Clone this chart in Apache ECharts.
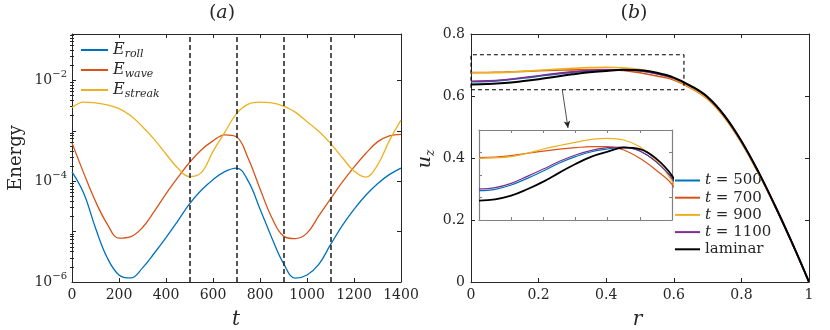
<!DOCTYPE html>
<html><head><meta charset="utf-8">
<script src="https://cdn.jsdelivr.net/npm/echarts@6/dist/echarts.min.js"></script>
<style>html,body{margin:0;padding:0;background:#fff}#c{width:830px;height:330px}</style>
</head><body><div id="c"></div>
<script>
// ---------- Panel (a): energies (log10 of E) ----------
const tVals = [0,50,100,150,200,250,300,350,400,450,500,550,600,650,700,750,800,850,900,950,1000,1050,1100,1150,1200,1250,1300,1350,1400];
const logERoll   = [-3.815,-4.24,-4.93,-5.52,-5.86,-5.92,-5.72,-5.43,-5.12,-4.79,-4.45,-4.18,-3.97,-3.81,-3.74,-4.00,-4.55,-5.12,-5.63,-5.925,-5.86,-5.65,-5.26,-4.88,-4.56,-4.28,-4.05,-3.87,-3.74];
const logEWave   = [-3.24,-3.84,-4.40,-4.85,-5.13,-5.10,-4.92,-4.60,-4.25,-3.93,-3.63,-3.38,-3.20,-3.08,-3.12,-3.55,-4.15,-4.72,-5.09,-5.14,-5.03,-4.69,-4.35,-4.02,-3.72,-3.45,-3.22,-3.10,-3.07];
const logEStreak = [-2.54,-2.43,-2.445,-2.485,-2.56,-2.70,-2.92,-3.17,-3.46,-3.74,-3.91,-3.83,-3.41,-3.03,-2.66,-2.47,-2.43,-2.445,-2.51,-2.63,-2.82,-3.01,-3.25,-3.53,-3.80,-3.92,-3.68,-3.20,-2.79];
const markTimes = [500,700,900,1100];
const energyNames = ['E_roll','E_wave','E_streak'];
const energyTicks = [-6,-4,-2];

// ---------- Panel (b): axial velocity profiles ----------
const rVals = [0,0.05,0.1,0.15,0.2,0.25,0.3,0.35,0.4,0.45,0.5,0.55,0.6,0.65,0.7,0.75,0.8,0.85,0.9,0.95,1.0];
const uz500  = [0.6461,0.6473,0.6511,0.6570,0.6636,0.6707,0.6763,0.6807,0.6831,0.6846,0.6813,0.6719,0.6570,0.631,0.595,0.535,0.453,0.355,0.244,0.126,0];
const uz700  = [0.6754,0.6760,0.6772,0.6792,0.6813,0.6830,0.6843,0.6852,0.6852,0.6822,0.6748,0.6644,0.6517,0.626,0.590,0.531,0.450,0.352,0.243,0.125,0];
const uz900  = [0.6748,0.6752,0.6763,0.6793,0.6831,0.6862,0.6890,0.6917,0.6926,0.6911,0.6852,0.6733,0.6547,0.627,0.591,0.531,0.450,0.352,0.243,0.125,0];
const uz1100 = [0.6476,0.6488,0.6526,0.6588,0.6653,0.6722,0.6778,0.6819,0.6843,0.6849,0.6813,0.6719,0.6570,0.631,0.595,0.535,0.453,0.355,0.244,0.126,0];
const uzLam  = [0.6372,0.6384,0.6416,0.6473,0.6541,0.6621,0.6698,0.6763,0.6807,0.6843,0.6831,0.6748,0.6594,0.633,0.597,0.537,0.455,0.356,0.245,0.126,0];
const profileNames = ['t = 500','t = 700','t = 900','t = 1100','laminar'];
const zoomBoxR = [0, 0.63];
const zoomBoxU = [0.62, 0.733];
const arrowFrom = [0.27, 0.62];
const arrowTo = [0.287, 0.497];
const insetR = [0, 0.6];
const insetU = [0.62, 0.70];

const colors = ['#0072BD','#D95319','#EDB120','#7E2F8E','#000000'];
const FONT = 'DejaVu Serif';
const AX = '#262626';

const chart = echarts.init(document.getElementById('c'), null, {renderer:'canvas'});

function minorLogTicks(lo, hi){
  const out=[];
  for(let n=Math.floor(lo); n<=Math.ceil(hi); n++){
    for(let k=2;k<=9;k++){const v=n+Math.log10(k); if(v>lo && v<hi) out.push(v);}
  }
  return out;
}
const majorLogTicks=[-6,-5,-4,-3,-2];
const yTop = -1.08;

function baseAxis(o){
  return Object.assign({
    axisLine:{show:true,onZero:false,lineStyle:{color:AX,width:1}},
    axisTick:{show:true,inside:true,length:4,lineStyle:{color:AX,width:1}},
    axisLabel:{show:false},
    splitLine:{show:false}
  }, o);
}
const lblStyle = {color:AX,fontFamily:FONT,fontSize:14};
const GRAY = '#808080';
function insetAxis(o){
  return baseAxis(Object.assign({
    axisLine:{show:true,onZero:false,lineStyle:{color:GRAY,width:1.2}},
    axisTick:{show:true,inside:true,length:3,lineStyle:{color:GRAY,width:1}}
  }, o));
}

const xAxes = [
  baseAxis({gridIndex:0,type:'value',position:'bottom',min:0,max:1400,interval:200,
    axisLabel:Object.assign({show:true,margin:6,formatter:v=>String(v)},lblStyle)}),
  baseAxis({gridIndex:0,type:'value',position:'top',min:0,max:1400,interval:200}),
  baseAxis({gridIndex:1,type:'value',position:'bottom',min:0,max:1,interval:0.2,
    axisLabel:Object.assign({show:true,margin:6,formatter:v=>String(+v.toFixed(1))},lblStyle)}),
  baseAxis({gridIndex:1,type:'value',position:'top',min:0,max:1,interval:0.2}),
  insetAxis({gridIndex:2,type:'value',position:'bottom',min:insetR[0],max:insetR[1],interval:0.1}),
  insetAxis({gridIndex:2,type:'value',position:'top',min:insetR[0],max:insetR[1],interval:0.1})
];
const supRich = {
  b:{fontFamily:FONT,fontSize:14,color:AX,lineHeight:22,verticalAlign:'middle'},
  s:{fontFamily:FONT,fontSize:10,color:AX,lineHeight:22,verticalAlign:'top'}
};
const yAxes = [
  baseAxis({gridIndex:0,type:'value',position:'left',min:-6,max:yTop,
    axisTick:{show:true,inside:true,length:4,lineStyle:{color:AX},customValues:majorLogTicks},
    axisLabel:{show:true,margin:5,customValues:energyTicks,
      formatter:v=>'{b|10}{s|\u2212'+Math.abs(Math.round(v))+'}',rich:supRich}}),
  baseAxis({gridIndex:0,type:'value',position:'left',min:-6,max:yTop,axisLine:{show:false},
    axisTick:{show:true,inside:true,length:2,lineStyle:{color:AX},customValues:minorLogTicks(-6,yTop)}}),
  baseAxis({gridIndex:0,type:'value',position:'right',min:-6,max:yTop,
    axisTick:{show:true,inside:true,length:4,lineStyle:{color:AX},customValues:majorLogTicks}}),
  baseAxis({gridIndex:0,type:'value',position:'right',min:-6,max:yTop,axisLine:{show:false},
    axisTick:{show:true,inside:true,length:2,lineStyle:{color:AX},customValues:minorLogTicks(-6,yTop)}}),
  baseAxis({gridIndex:1,type:'value',position:'left',min:0,max:0.8,interval:0.2,
    axisLabel:Object.assign({show:true,margin:6,formatter:v=>String(+v.toFixed(1))},lblStyle)}),
  baseAxis({gridIndex:1,type:'value',position:'right',min:0,max:0.8,interval:0.2}),
  insetAxis({gridIndex:2,type:'value',position:'left',min:insetU[0],max:insetU[1],interval:0.02}),
  insetAxis({gridIndex:2,type:'value',position:'right',min:insetU[0],max:insetU[1],interval:0.02})
];

const series = [];
const energyData = [logERoll, logEWave, logEStreak];
energyData.forEach((arr,i)=>{
  const s = {name:energyNames[i],type:'line',xAxisIndex:0,yAxisIndex:0,smooth:0.4,symbol:'none',
    data:tVals.map((t,j)=>[t,arr[j]]),
    lineStyle:{color:colors[i],width:1.3},itemStyle:{color:colors[i]},z:3};
  if(i===0){
    s.markLine={silent:true,symbol:['none','none'],label:{show:false},
      lineStyle:{color:'#2a2a2a',width:1.6,type:[5,3]},
      data:markTimes.map(t=>({xAxis:t}))};
  }
  series.push(s);
});
const profiles = [uz500, uz700, uz900, uz1100, uzLam];
// main panel
profiles.forEach((arr,i)=>{
  series.push({name:profileNames[i],type:'line',xAxisIndex:2,yAxisIndex:4,smooth:0.4,symbol:'none',
    data:rVals.map((r,j)=>[r,arr[j]]),
    lineStyle:{color:colors[i],width:i===4?2:1.6},itemStyle:{color:colors[i]},z:3+i});
});
// inset
profiles.forEach((arr,i)=>{
  series.push({name:profileNames[i],type:'line',xAxisIndex:4,yAxisIndex:6,smooth:0.4,symbol:'none',
    data:rVals.map((r,j)=>[r,arr[j]]),
    lineStyle:{color:colors[i],width:i===4?1.8:1.2},itemStyle:{color:colors[i]},z:3+i});
});
// zoom box + arrow
series.push({name:'box',type:'line',xAxisIndex:2,yAxisIndex:4,symbol:'none',silent:true,
  data:[[zoomBoxR[0],zoomBoxU[0]],[zoomBoxR[1],zoomBoxU[0]],[zoomBoxR[1],zoomBoxU[1]],[zoomBoxR[0],zoomBoxU[1]],[zoomBoxR[0],zoomBoxU[0]]],
  lineStyle:{color:'#000',width:1.1,type:[4,3]},z:10,
  markLine:{silent:true,symbol:['none','arrow'],symbolSize:[5,7],label:{show:false},
    lineStyle:{color:'#222',width:0.8,type:'solid'},
    data:[[{coord:arrowFrom},{coord:arrowTo}]]}});

const subMap = {E_roll:'roll',E_wave:'wave',E_streak:'streak'};
const option = {
  animation:false,
  backgroundColor:'#fff',
  grid:[
    {left:72,top:34,width:329,height:248},
    {left:471,top:34,width:338,height:248},
    {left:479,top:130,width:193,height:90}
  ],
  xAxis:xAxes, yAxis:yAxes, series:series,
  legend:[
    {data:energyNames,left:81,top:42,orient:'vertical',padding:0,itemGap:2,itemWidth:27,itemHeight:14,
     selectedMode:false,icon:'path://M0,6 L27,6 L27,8 L0,8 Z',
     formatter:n=>'{e|E}{s|'+subMap[n]+'}',
     textStyle:{rich:{
       e:{fontFamily:FONT,fontStyle:'italic',fontSize:16,color:AX,lineHeight:20,verticalAlign:'middle'},
       s:{fontFamily:FONT,fontStyle:'italic',fontSize:11,color:AX,lineHeight:20,verticalAlign:'bottom'}}}},
    {data:profileNames,left:675,top:173,orient:'vertical',padding:0,itemGap:2.2,itemWidth:25,itemHeight:14,
     selectedMode:false,icon:'path://M0,6 L25,6 L25,8 L0,8 Z',
     formatter:n=>n==='laminar'?'{n|laminar}':'{i|t}{n|'+n.slice(1)+'}',
     textStyle:{rich:{
       i:{fontFamily:FONT,fontStyle:'italic',fontSize:15,color:AX,lineHeight:18},
       n:{fontFamily:FONT,fontSize:15,color:AX,lineHeight:18}}}}
  ],
  graphic:[
    {type:'text',x:222,y:13.5,style:{rich:{p:{fontFamily:FONT,fontSize:19,fill:AX},a:{fontFamily:FONT,fontStyle:'italic',fontSize:19,fill:AX}},
      text:'{p|(}{a|a}{p|)}',textAlign:'center',textVerticalAlign:'middle'}},
    {type:'text',x:634,y:13.5,style:{rich:{p:{fontFamily:FONT,fontSize:19,fill:AX},a:{fontFamily:FONT,fontStyle:'italic',fontSize:19,fill:AX}},
      text:'{p|(}{a|b}{p|)}',textAlign:'center',textVerticalAlign:'middle'}},
    {type:'text',x:16,y:158,rotation:Math.PI/2,style:{text:'Energy',fontFamily:FONT,fontSize:18,fill:AX,textAlign:'center',textVerticalAlign:'middle'}},
    {type:'text',x:236,y:320,style:{text:'t',fontFamily:FONT,fontStyle:'italic',fontSize:20,fill:AX,textAlign:'center',textVerticalAlign:'middle'}},
    {type:'text',x:637.5,y:320,style:{text:'r',fontFamily:FONT,fontStyle:'italic',fontSize:20,fill:AX,textAlign:'center',textVerticalAlign:'middle'}},
    {type:'text',x:425,y:159,rotation:Math.PI/2,style:{rich:{u:{fontFamily:FONT,fontStyle:'italic',fontSize:19,fill:AX,lineHeight:24,verticalAlign:'middle'},z:{fontFamily:FONT,fontStyle:'italic',fontSize:12,fill:AX,lineHeight:24,verticalAlign:'bottom'}},
      text:'{u|u}{z|z}',textAlign:'center',textVerticalAlign:'middle'}}
  ]
};
chart.setOption(option);
</script></body></html>
